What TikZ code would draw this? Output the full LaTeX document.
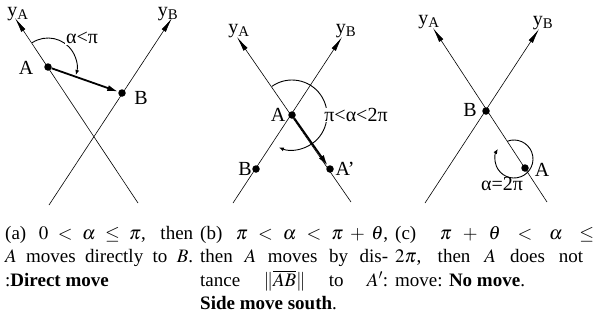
\documentclass[tikz,border=0pt]{standalone}
\usepackage{mathptmx}
\usepackage{fontspec}
\setmainfont{Liberation Serif}
\usetikzlibrary{arrows.meta}
\begin{document}
\begin{tikzpicture}[x=1pt,y=1pt,
  axis/.style={line width=0.6pt,-{Latex[length=15pt,width=5pt]}},
  move/.style={line width=1.8pt,-{Latex[length=11pt,width=6pt]}},
  angarc/.style={line width=0.9pt,-{Latex[length=5pt,width=4pt]}},
  dot/.style={circle,fill,inner sep=0pt,minimum size=7.5pt},
  lab/.style={font=\fontsize{20}{22}\selectfont,inner sep=1pt},
  ylab/.style={lab,inner sep=0pt,anchor=south,yshift=-1.5pt},
  caption/.style={font=\fontsize{19}{23.5}\selectfont,align=left,inner sep=0pt,anchor=north west}]
  \useasboundingbox (0,0) rectangle (595,-322);
  % (a) direct move
  \coordinate (a-yA0) at (138,-203);
  \coordinate (a-yA) at (15,-18);
  \coordinate (a-yB0) at (49,-205);
  \coordinate (a-yB) at (172,-18);
  \node[dot] (a-A) at (48,-67) {};
  \node[dot] (a-B) at (122,-93) {};
  \draw[axis] (a-yA0) -- (a-yA);
  \draw[axis] (a-yB0) -- (a-yB);
  \draw[angarc] (a-A) ++(123:29) arc[start angle=123,end angle=-16,radius=29];
  \draw[move] (a-A) -- (a-B);
  \node[ylab,xshift=3pt,yshift=-1.5pt] (a-lyA) at (a-yA) {y\textsubscript{A}};
  \node[ylab,xshift=-4pt,yshift=-1.5pt] (a-lyB) at (a-yB) {y\textsubscript{B}};
  \node[lab] (a-lA) at (26,-68) {A};
  \node[lab] (a-lB) at (141,-98) {B};
  \node[lab,fill=white] (a-lang) at (82,-38) {α<π};
  % (b) side move south
  \coordinate (b-yA0) at (351,-202);
  \coordinate (b-yA) at (237,-37);
  \coordinate (b-yB0) at (233,-203);
  \coordinate (b-yB) at (342,-37);
  \node[dot] (b-A) at (292,-115) {};
  \node[dot] (b-A2) at (330,-169) {};
  \node[dot] (b-B) at (256,-169) {};
  \draw[axis] (b-yA0) -- (b-yA);
  \draw[axis] (b-yB0) -- (b-yB);
  \draw[angarc] (b-A) ++(125:35) arc[start angle=125,end angle=-112,radius=35];
  \draw[move] (b-A) -- (b-A2);
  \node[ylab,xshift=2pt] (b-lyA) at (b-yA) {y\textsubscript{A}};
  \node[ylab,xshift=4pt] (b-lyB) at (b-yB) {y\textsubscript{B}};
  \node[lab] (b-lA) at (278,-115) {A};
  \node[lab] (b-lA2) at (345,-169) {A’};
  \node[lab] (b-lB) at (245,-169) {B};
  \node[lab,fill=white,inner sep=0.5pt] (b-lang) at (356,-115) {π<α<2π};
  % (c) no move
  \coordinate (c-yA0) at (547,-202);
  \coordinate (c-yA) at (433,-28);
  \coordinate (c-yB0) at (425,-203);
  \coordinate (c-yB) at (539,-29);
  \node[dot] (c-B) at (486,-111) {};
  \node[dot] (c-A) at (525,-168) {};
  \draw[axis] (c-yA0) -- (c-yA);
  \draw[axis] (c-yB0) -- (c-yB);
  \draw[angarc] (514,-159) ++(111:19) arc[start angle=111,end angle=-212,radius=19];
  \node[ylab,xshift=-4pt] (c-lyA) at (c-yA) {y\textsubscript{A}};
  \node[ylab,xshift=4pt] (c-lyB) at (c-yB) {y\textsubscript{B}};
  \node[lab] (c-lB) at (470,-110) {B};
  \node[lab] (c-lA) at (542,-170) {A};
  \node[lab] (c-lang) at (502,-184) {α=2π};
  % captions
  \node[caption] (capa) at (5,-226) {\makebox[188pt][s]{(a) $0<\alpha\le\pi$, then}\\
    \makebox[188pt][s]{$A$ moves directly to $B$.}\\
    :\textbf{Direct move}};
  \node[caption] (capb) at (200,-226) {\makebox[188pt][s]{(b) $\pi<\alpha<\pi+\theta$,}\\
    \makebox[188pt][s]{then $A$ moves by dis-}\\
    \makebox[188pt][s]{tance $\|\overline{AB}\|$ to $A'$:}\\
    \textbf{Side move south}.};
  \node[caption] (capc) at (395,-226) {\makebox[188pt][l]{\makebox[199pt][s]{(c) $\pi+\theta<\alpha\le$}}\\
    \makebox[188pt][s]{$2\pi$, then $A$ does not}\\
    move: \textbf{No move}.};
\end{tikzpicture}
\end{document}
